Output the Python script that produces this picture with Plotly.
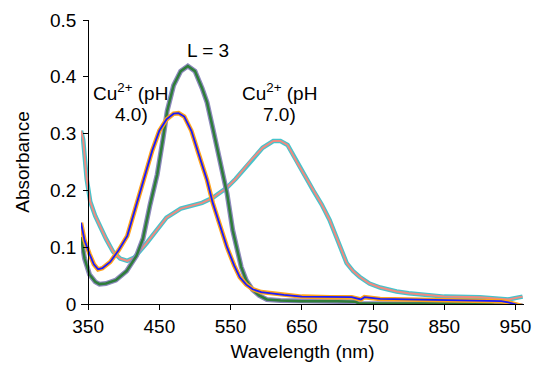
import plotly.graph_objects as go

# ---- data ----
wl_ph4 = [340, 345, 352, 358, 364, 370, 381, 393, 405, 415, 423, 427, 440, 450, 460, 470, 477, 485,
          495, 505, 517, 525, 535, 545, 555, 563, 572, 581, 593, 605, 625, 650, 690, 720, 733, 738,
          760, 800, 850, 900, 930, 940, 950, 960]
abs_ph4 = [0.143, 0.112, 0.088, 0.07, 0.061, 0.063, 0.074, 0.095, 0.12, 0.162, 0.195, 0.215, 0.27, 0.305,
           0.325, 0.335, 0.336, 0.33, 0.305, 0.265, 0.218, 0.178, 0.138, 0.10, 0.068, 0.047, 0.034,
           0.026, 0.021, 0.019, 0.016, 0.013, 0.012, 0.012, 0.008, 0.012, 0.009, 0.008, 0.007, 0.006,
           0.005, 0.003, 0.0, -0.004]

wl_l3 = [340, 345, 352, 360, 366, 375, 389, 404, 418, 427, 437, 447, 455, 461, 470, 480,
         490, 500, 510, 517, 525, 533, 540, 545, 553, 560, 565, 572, 581, 590, 601, 620, 650, 700,
         725, 730, 800, 900, 920, 940, 960]
abs_l3 = [0.118, 0.08, 0.052, 0.039, 0.035, 0.036, 0.042, 0.058, 0.085, 0.115, 0.175, 0.228,
          0.29, 0.34, 0.385, 0.41, 0.419, 0.41, 0.38, 0.355, 0.31, 0.265, 0.225, 0.195, 0.13, 0.09,
          0.065, 0.042, 0.025, 0.015, 0.008, 0.006, 0.005, 0.005, 0.004, 0.001, 0.001, 0.001,
          -0.001, -0.002, -0.003]

wl_ph7 = [340, 343, 348, 353, 360, 367, 375, 385, 395, 405, 415, 432, 445, 460, 480, 497, 510, 525,
          545, 557, 567, 580, 595, 610, 620, 630, 643, 655, 666, 678, 689, 701, 713, 722, 731, 745,
          760, 783, 800, 850, 900, 940, 950, 960]
abs_ph7 = [0.305, 0.29, 0.22, 0.18, 0.155, 0.135, 0.115, 0.092, 0.08, 0.076, 0.082, 0.107, 0.128, 0.152,
           0.168, 0.173, 0.178, 0.187, 0.205, 0.22, 0.235, 0.255, 0.275, 0.287, 0.287, 0.28, 0.25,
           0.225, 0.2, 0.175, 0.148, 0.11, 0.072, 0.058, 0.048, 0.036, 0.029, 0.022, 0.019, 0.013,
           0.012, 0.008, 0.010, 0.013]

x_ticks = [350, 450, 550, 650, 750, 850, 950]
y_ticks = [0, 0.1, 0.2, 0.3, 0.4, 0.5]
y_ticktext = ["0", "0.1", "0.2", "0.3", "0.4", "0.5"]

x_range = [340, 962]
y_range = [0, 0.5]

FONT = "Liberation Sans, Arial, sans-serif"
FS = 19
FS_TITLE = 19

fig = go.Figure()

def add_curve(x, y, outer, inner, w_out, w_in):
    fig.add_trace(go.Scatter(x=x, y=y, mode="lines", line=dict(color=outer, width=w_out),
                             showlegend=False, hoverinfo="skip"))
    fig.add_trace(go.Scatter(x=x, y=y, mode="lines", line=dict(color=inner, width=w_in),
                             showlegend=False, hoverinfo="skip"))

add_curve(wl_ph7, abs_ph7, "#45c4cc", "#f08a80", 4.5, 2)
add_curve(wl_l3, abs_l3, "#8c88bc", "#2e7d3a", 5, 2.5)
add_curve(wl_ph4, abs_ph4, "#ffa31a", "#1a1aff", 4.5, 1.8)

ypos = (350 - x_range[0]) / (x_range[1] - x_range[0])

fig.update_layout(
    width=535, height=369,
    margin=dict(l=81, r=11, t=20, b=65),
    paper_bgcolor="white", plot_bgcolor="white",
    font=dict(family=FONT, size=FS, color="black"),
    xaxis=dict(range=x_range, tickvals=x_ticks, ticks="outside", ticklen=5, tickcolor="black",
               showline=True, linecolor="black", linewidth=1, showgrid=False, zeroline=False,
               automargin=False,
               title=dict(text="Wavelength (nm)", standoff=8, font=dict(size=FS_TITLE)),
               tickfont=dict(size=FS)),
    yaxis=dict(range=y_range, tickvals=y_ticks, ticktext=y_ticktext,
               ticks="outside", ticklen=5, tickcolor="black", ticklabelstandoff=3,
               showline=True, linecolor="black", linewidth=1, showgrid=False, zeroline=False,
               anchor="free", position=ypos, automargin=False,
               title=dict(text="Absorbance", standoff=14, font=dict(size=FS_TITLE)),
               tickfont=dict(size=FS)),
)

ann = [
    ("L = 3", 519, 0.4457),
    ("Cu<sup>2+</sup> (pH", 409, 0.3734),
    ("4.0)", 411, 0.333),
    ("Cu<sup>2+</sup> (pH", 619, 0.3734),
    ("7.0)", 619, 0.333),
]
for t, x, y in ann:
    fig.add_annotation(text=t, x=x, y=y, xref="x", yref="y", showarrow=False,
                       font=dict(family=FONT, size=FS, color="black"), xanchor="center", yanchor="middle")

fig.write_html("out.html", config={"displayModeBar": False},
               post_script="document.body.style.margin='0';document.body.style.padding='0';")
